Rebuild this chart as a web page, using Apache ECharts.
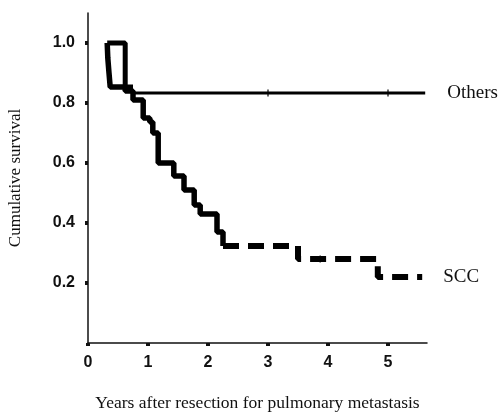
<!DOCTYPE html>
<html>
<head>
<meta charset="utf-8">
<script src="https://cdn.jsdelivr.net/npm/echarts@6/dist/echarts.min.js"></script>
<style>html,body{margin:0;padding:0;background:#fff;}#c{width:501px;height:414px;}</style>
</head>
<body>
<div id="c"></div>
<script>
// Kaplan-Meier step points [years, cumulative survival]
const sccSolid = [[0.32,1.0],[0.33,0.95],[0.35,0.9],[0.37,0.853],[0.62,0.84],[0.75,0.81],[0.92,0.75],[1.03,0.737],[1.08,0.70],[1.17,0.60],[1.43,0.557],[1.6,0.51],[1.77,0.46],[1.87,0.43],[2.15,0.37],[2.25,0.323]];
const sccDashed = [[2.25,0.323],[3.5,0.28],[4.83,0.22],[5.57,0.22]];
const othersEarly = [[0.32,1.0],[0.62,0.853],[0.75,0.853]];
const othersLate = [[0.75,0.833],[5.62,0.833]];
const othersCensor = [[3.0,0.833],[5.0,0.833]];
const sccCensor = [[3.87,0.28]];
const xTicks = [0,1,2,3,4,5];
const yTicks = [0.2,0.4,0.6,0.8,1.0];

const chart = echarts.init(document.getElementById('c'), null, {renderer:'canvas'});
const serif = 'Liberation Serif';
const sans = 'Liberation Sans';
chart.setOption({
  animation:false,
  backgroundColor:'#fff',
  grid:{left:88, top:13, width:339, height:330, outerBoundsMode:'none', containLabel:false},
  xAxis:{
    type:'value', min:0, max:5.65,
    name:'Years after resection for pulmonary metastasis',
    nameLocation:'middle', nameGap:51,
    nameTextStyle:{fontFamily:serif, fontSize:17.5, color:'#111'},
    splitLine:{show:false},
    axisLine:{lineStyle:{color:'#111', width:1.5}},
    axisTick:{customValues:xTicks, length:3, lineStyle:{color:'#111', width:4}},
    axisLabel:{customValues:xTicks, margin:12, fontFamily:sans, fontSize:16, fontWeight:'bold', color:'#111', formatter:v=>String(v)}
  },
  yAxis:{
    type:'value', min:0, max:1.1,
    name:'Cumulative survival',
    nameLocation:'middle', nameGap:64, nameRotate:90,
    nameTextStyle:{fontFamily:serif, fontSize:17, color:'#111'},
    splitLine:{show:false},
    axisLine:{show:true, lineStyle:{color:'#111', width:1.5}},
    axisTick:{customValues:yTicks, length:3, lineStyle:{color:'#111', width:4}},
    axisLabel:{customValues:yTicks, margin:13, fontFamily:sans, fontSize:16, fontWeight:'bold', color:'#111', formatter:v=>v.toFixed(1)}
  },
  series:[
    {type:'line', step:'end', data:othersEarly, symbol:'none', lineStyle:{color:'#000', width:5}},
    {type:'line', step:'end', name:'Others', data:othersLate, symbol:'none', lineStyle:{color:'#000', width:3},
      endLabel:{show:true, formatter:'Others', distance:22, fontFamily:serif, fontSize:19, color:'#111'}},
    {type:'line', step:'end', data:sccSolid, symbol:'none', lineStyle:{color:'#000', width:5.5}},
    {type:'line', step:'end', name:'SCC', data:sccDashed, symbol:'none', lineStyle:{color:'#000', width:6, type:[16,9]},
      endLabel:{show:true, formatter:'SCC', distance:21, fontFamily:serif, fontSize:19, color:'#111'}},
    {type:'scatter', data:othersCensor.concat(sccCensor), symbol:'rect', symbolSize:[1.5,7], itemStyle:{color:'#000'}}
  ]
});
</script>
</body>
</html>
